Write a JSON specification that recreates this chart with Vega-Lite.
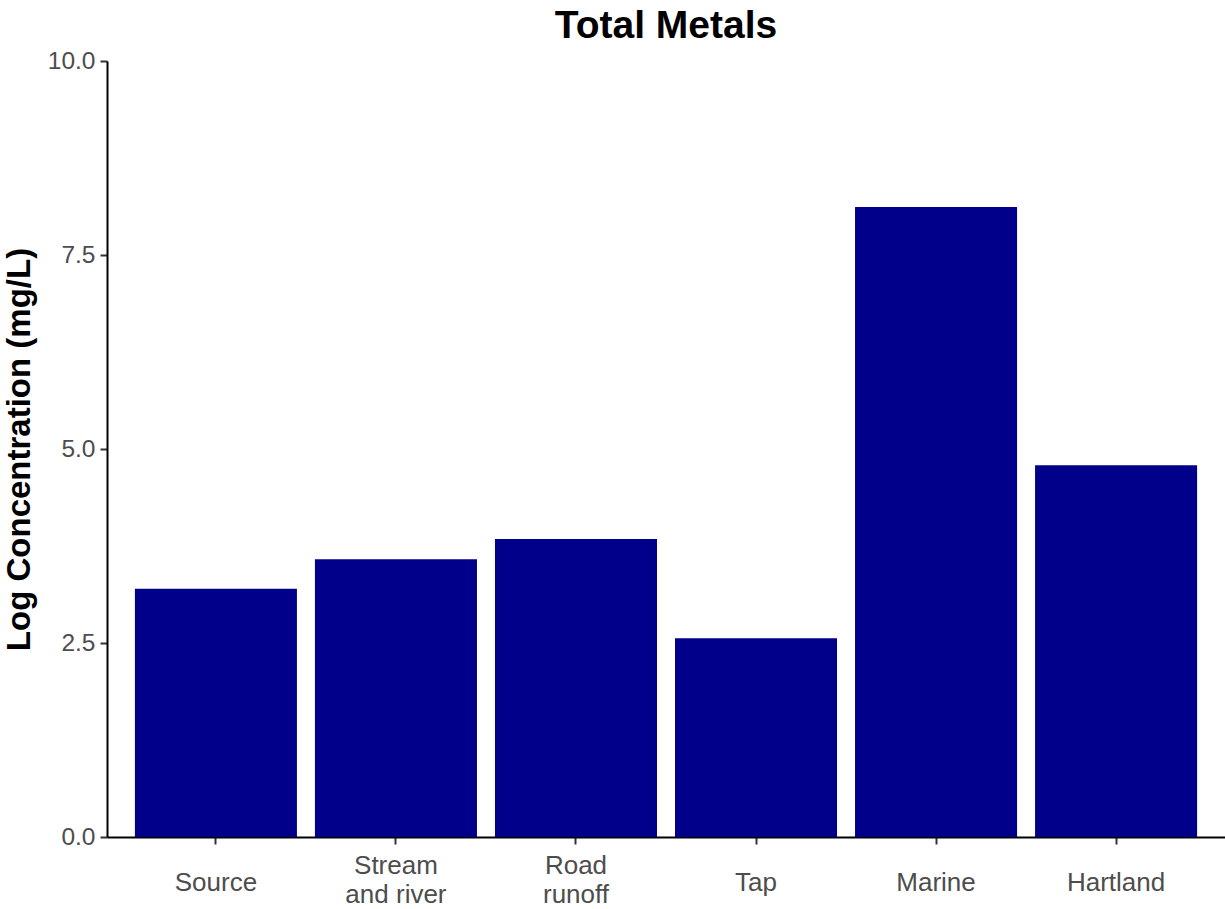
{
  "$schema": "https://vega.github.io/schema/vega-lite/v6.json",
  "autosize": {"type": "none"},
  "padding": {"left": 107, "top": 61, "right": 0, "bottom": 72},
  "width": 1118,
  "height": 776,
  "background": "white",
  "title": {
    "text": "Total Metals",
    "font": "Liberation Sans",
    "fontSize": 39,
    "fontWeight": "bold",
    "color": "black",
    "anchor": "middle",
    "offset": 2
  },
  "data": {
    "values": [
      {"site": "Source", "conc": 3.2},
      {"site": "Stream and river", "conc": 3.58},
      {"site": "Road runoff", "conc": 3.84},
      {"site": "Tap", "conc": 2.56},
      {"site": "Marine", "conc": 8.12},
      {"site": "Hartland", "conc": 4.79}
    ]
  },
  "mark": {"type": "bar", "color": "#00008B"},
  "encoding": {
    "x": {
      "field": "site",
      "type": "nominal",
      "sort": null,
      "scale": {"paddingInner": 0.1, "paddingOuter": 0.155},
      "axis": {
        "title": null,
        "labelAngle": 0,
        "labelFont": "Liberation Sans",
        "labelFontSize": 26,
        "labelColor": "#4d4d4d",
        "labelBaseline": "middle",
        "labelPadding": {"condition": {"test": "datum.value == 'Stream and river' || datum.value == 'Road runoff'", "value": 21}, "value": 38},
        "labelLineHeight": 29,
        "labelExpr": "datum.label == 'Stream and river' ? ['Stream', 'and river'] : datum.label == 'Road runoff' ? ['Road', 'runoff'] : datum.label",
        "domainColor": "black",
        "domainWidth": 2,
        "tickColor": "#333333",
        "tickWidth": 2,
        "tickSize": 7,
        "grid": false
      }
    },
    "y": {
      "field": "conc",
      "type": "quantitative",
      "scale": {"domain": [0, 10], "nice": false},
      "axis": {
        "title": "Log Concentration (mg/L)",
        "titleFont": "Liberation Sans",
        "titleFontSize": 33,
        "titleFontWeight": "bold",
        "titleColor": "black",
        "titlePadding": 11,
        "values": [0, 2.5, 5, 7.5, 10],
        "format": ".1f",
        "labelFont": "Liberation Sans",
        "labelFontSize": 24.5,
        "labelColor": "#4d4d4d",
        "labelPadding": 5,
        "domainColor": "black",
        "domainWidth": 2,
        "tickColor": "#333333",
        "tickWidth": 2,
        "tickSize": 7,
        "grid": false
      }
    }
  },
  "config": {
    "view": {"stroke": null}
  }
}
